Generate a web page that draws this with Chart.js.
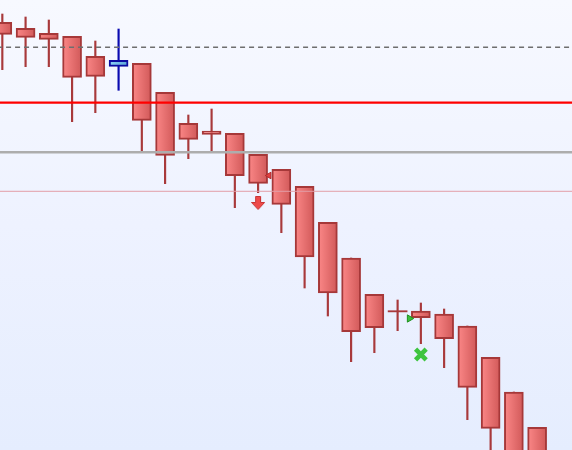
<!DOCTYPE html>
<html>
<head>
<meta charset="utf-8">
<script src="https://cdn.jsdelivr.net/npm/chart.js@4"></script>
<style>
html,body{margin:0;padding:0;}
#wrap{width:572px;height:450px;position:relative;background:linear-gradient(to bottom,#f7f9ff 0%,#eef2ff 50%,#e5edfe 100%);}
</style>
</head>
<body>
<div id="wrap"><canvas id="c"></canvas></div>
<script>
// candle index positions
const candleIndex = [0,1,2,3,4,5,6,7,8,9,10,11,12,13,14,15,16,17,18,19,20,21,22,23];
const openVals  = [427.7,421.7,416.7,413.7,393.7,383.7,386.7,357.7,326.7,319.0,316.7,295.7,280.7,263.7,227.7,192.0,155.7,138.7,139.0,136.0,124.0,92.7,58.0,22.7];
const highVals  = [436.0,433.0,430.0,413.7,409.0,421.0,386.7,357.7,335.0,341.0,316.7,295.7,280.7,263.7,227.7,192.0,155.7,150.0,147.0,141.0,124.0,92.7,58.0,22.7];
const lowVals   = [380.3,383.3,383.3,328.3,337.3,359.7,298.3,266.3,291.3,298.3,242.3,257.3,217.3,162.0,134.0,88.3,97.3,119.3,106.3,82.3,30.3,-10,-40,-60];
const closeVals = [415.7,412.7,410.7,372.7,373.7,389.7,329.7,294.7,310.7,315.7,274.3,266.7,245.7,193.0,157.0,118.3,122.3,138.7,132.3,111.3,62.7,21.7,-20,-40];

// horizontal reference levels
const dashedLevel = 402.7;
const redLevel = 347.3;
const grayLevel = 297.7;
const thinLevel = 258.7;

// markers: [index, value]
const downArrowMarks = [[11, 247]];
const leftTriMarks   = [[11.47, 274.5]];
const rightTriMarks  = [[17.51, 131.5]];
const crossMarks     = [[18, 95.5]];

const bull = (i) => closeVals[i] > openVals[i];

const bodyData = candleIndex.map((x,i) => {
  const o = openVals[i], c = closeVals[i];
  if (o === c) return {x, y:[o-0.6, o+0.6]};
  return {x, y:[Math.min(o,c), Math.max(o,c)]};
});
const wickData = candleIndex.map((x,i) => ({x, y:[lowVals[i], highVals[i]]}));

function bodyFill(ctx){
  if (ctx.type !== 'data') return '#ef7575';
  const i = ctx.dataIndex;
  if (openVals[i] === closeVals[i]) return '#a8393b';
  const chart = ctx.chart, xs = chart.scales && chart.scales.x;
  if (!xs || !chart.chartArea) return bull(i) ? '#78c0ec' : '#ef7575';
  const cx = xs.getPixelForValue(ctx.raw.x);
  const g = chart.ctx.createLinearGradient(cx-9,0,cx+9,0);
  if (bull(i)) { g.addColorStop(0,'#8cd2f6'); g.addColorStop(1,'#5ba6d6'); }
  else { g.addColorStop(0,'#fa8686'); g.addColorStop(1,'#d25a5a'); }
  return g;
}

function arrowCanvas(){
  const c = document.createElement('canvas');
  c.width = 14; c.height = 14;
  const g = c.getContext('2d');
  g.beginPath();
  g.moveTo(4.5,0.5); g.lineTo(9.5,0.5); g.lineTo(9.5,6.5); g.lineTo(13.5,6.5);
  g.lineTo(7,13.5); g.lineTo(0.5,6.5); g.lineTo(4.5,6.5); g.closePath();
  g.fillStyle = '#ee4a4a'; g.fill();
  g.strokeStyle = '#c83434'; g.lineWidth = 1; g.stroke();
  return c;
}

const hLine = (v, color, w, dash) => ({
  type:'line', order:0,
  data:[{x:-1,y:v},{x:26,y:v}],
  borderColor:color, borderWidth:w, borderDash:dash||[],
  pointRadius:0, fill:false, tension:0
});
const pts = (arr) => arr.map(p => ({x:p[0], y:p[1]}));

new Chart(document.getElementById('c'), {
  type:'bar',
  data:{
    datasets:[
      { type:'bar', order:3, data:wickData, barThickness:1.5, grouped:false,
        backgroundColor: candleIndex.map(i => bull(i) ? '#0a0ab0' : '#a8393b'), borderWidth:0 },
      { type:'bar', order:2, data:bodyData, barThickness:19, grouped:false,
        backgroundColor: bodyFill,
        borderColor: candleIndex.map(i => bull(i) ? '#0b0ba0' : '#a63839'),
        borderWidth: candleIndex.map(i => openVals[i] === closeVals[i] ? 0 : 2),
        borderSkipped:false },
      hLine(dashedLevel, '#6e6e6e', 1.5, [5,4]),
      hLine(redLevel, '#ff0000', 2.2),
      hLine(grayLevel, '#adadad', 2.6),
      hLine(thinLevel, '#e29ea8', 1),
      { type:'scatter', order:-1, data:pts(downArrowMarks), pointStyle:arrowCanvas(), pointRadius:7 },
      { type:'scatter', order:-1, data:pts(leftTriMarks), pointStyle:'triangle', rotation:-90,
        pointRadius:3.8, backgroundColor:'#e24040', borderColor:'#b02a2a', borderWidth:1 },
      { type:'scatter', order:-1, data:pts(rightTriMarks), pointStyle:'triangle', rotation:90,
        pointRadius:4.2, backgroundColor:'#3cbf3c', borderColor:'#1f8f1f', borderWidth:1 },
      { type:'scatter', order:-1, data:pts(crossMarks), pointStyle:'crossRot',
        pointRadius:7.5, borderColor:'#3ec43e', borderWidth:4.6 }
    ]
  },
  options:{
    responsive:true, maintainAspectRatio:false, animation:false,
    layout:{padding:0, autoPadding:false},
    plugins:{legend:{display:false}, tooltip:{enabled:false}},
    scales:{
      x:{type:'linear', min:-0.1, max:24.5, display:false, offset:false},
      y:{type:'linear', min:0, max:450, display:false}
    }
  }
});
</script>
</body>
</html>
